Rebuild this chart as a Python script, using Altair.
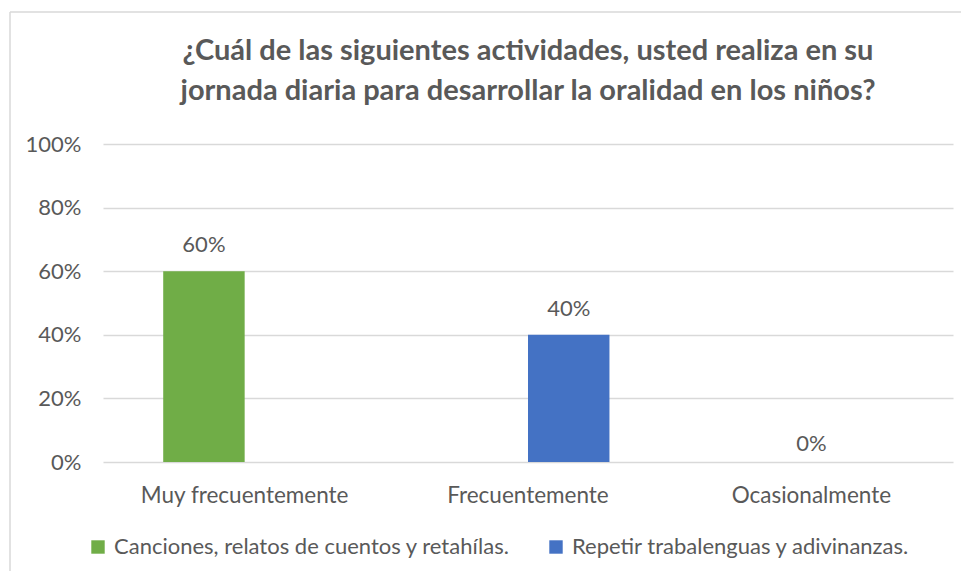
import altair as alt
import pandas as pd

categories = ["Muy frecuentemente", "Frecuentemente", "Ocasionalmente"]
series = ["Canciones, relatos de cuentos y retahílas.", "Repetir trabalenguas y adivinanzas."]
values_s1 = [0.60, 0.0, 0.0]
values_s2 = [0.0, 0.40, 0.0]
colors = ["#70AD47", "#4472C4"]
title_lines = ["¿Cuál de las siguientes actividades, usted realiza en su",
               "jornada diaria para desarrollar la oralidad en los niños?"]

rows = []
for c, v in zip(categories, values_s1):
    rows.append({"cat": c, "serie": series[0], "val": v})
for c, v in zip(categories, values_s2):
    rows.append({"cat": c, "serie": series[1], "val": v})
df = pd.DataFrame(rows)

# labels shown on the chart
lab_bars = pd.DataFrame({"cat": [categories[0], categories[1]],
                         "serie": [series[0], series[1]],
                         "val": [values_s1[0], values_s2[1]]})
lab_center = pd.DataFrame({"cat": [categories[2]], "val": [values_s1[2]]})

FONT = "Lato"
TXT = "#595959"
FS = 22

x = alt.X("cat:N", sort=categories, title=None,
          scale=alt.Scale(paddingInner=0.425, paddingOuter=0.2125),
          axis=alt.Axis(labelAngle=0, domain=False, ticks=False, labelFontSize=22.5,
                        labelColor=TXT, labelFont=FONT, labelPadding=22, labelLimit=0))
y = alt.Y("val:Q", title=None,
          scale=alt.Scale(domain=[0, 1]),
          axis=alt.Axis(values=[0, 0.2, 0.4, 0.6, 0.8, 1.0], format=".0%", domain=False,
                        ticks=False, labelFontSize=FS, labelColor=TXT, labelFont=FONT,
                        labelPadding=22, gridColor="#D9D9D9", gridWidth=1.5))

bars = alt.Chart(df).mark_bar().encode(
    x=x, y=y,
    xOffset=alt.XOffset("serie:N", sort=series, scale=alt.Scale(paddingInner=0, paddingOuter=0)),
    color=alt.Color("serie:N", sort=series,
                    scale=alt.Scale(domain=series, range=colors),
                    legend=alt.Legend(title=None, orient="none", direction="horizontal",
                                      legendX=-16, legendY=392, symbolType="square",
                                      symbolSize=180, symbolStrokeWidth=0, labelFontSize=FS,
                                      labelFont=FONT, labelColor=TXT, columnPadding=34,
                                      labelOffset=5, labelLimit=0, symbolOpacity=1)),
)

text_bars = alt.Chart(lab_bars).mark_text(dy=-14, baseline="bottom", fontSize=FS,
                                          font=FONT, color=TXT).encode(
    x=alt.X("cat:N", sort=categories),
    xOffset=alt.XOffset("serie:N", sort=series),
    y="val:Q",
    text=alt.Text("val:Q", format=".0%"),
)
text_center = alt.Chart(lab_center).mark_text(dy=-6, baseline="bottom", fontSize=FS,
                                              font=FONT, color=TXT).encode(
    x=alt.X("cat:N", sort=categories),
    y="val:Q",
    text=alt.Text("val:Q", format=".0%"),
)

border_left = alt.Chart(pd.DataFrame({"k": [0]})).mark_rule(color="#D9D9D9", strokeWidth=1.5).encode(
    x=alt.value(-93), y=alt.value(-132), y2=alt.value(430))
border_top = alt.Chart(pd.DataFrame({"k": [0]})).mark_rule(color="#D9D9D9", strokeWidth=1.5).encode(
    x=alt.value(-93), x2=alt.value(860), y=alt.value(-132))

chart = alt.layer(border_left, border_top, bars, text_bars, text_center).properties(
    width=850, height=318,
    title=alt.TitleParams(title_lines, anchor="middle", fontSize=29, font=FONT,
                          fontWeight="bold", color=TXT, lineHeight=40, offset=-95),
    autosize=alt.AutoSizeParams(type="none"),
    padding={"left": 95, "top": 136, "right": 8, "bottom": 109},
).configure_view(stroke=None)

chart.save("out.html", embed_options={"renderer": "svg", "actions": False})
